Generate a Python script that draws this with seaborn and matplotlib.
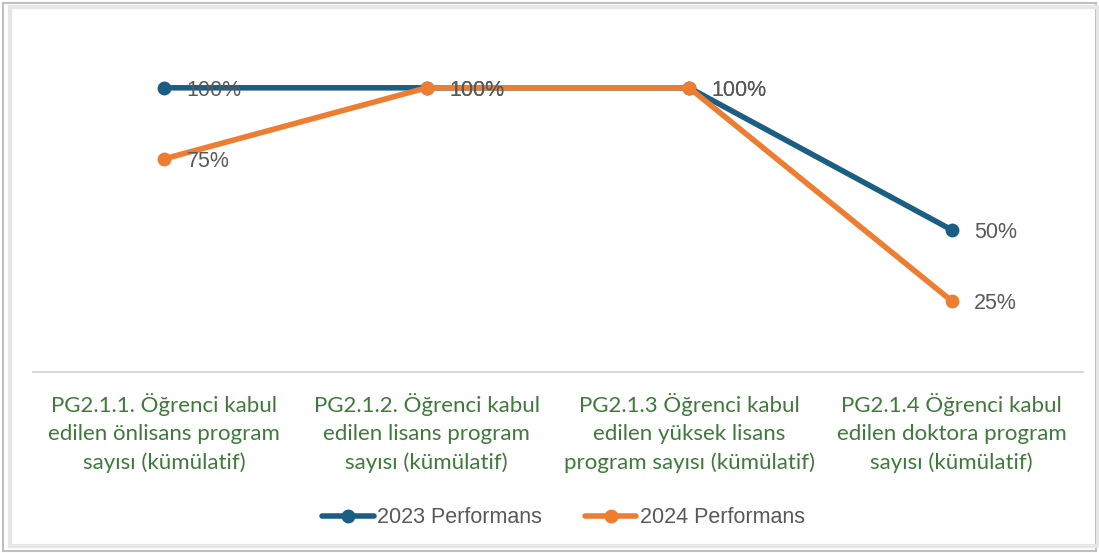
import pandas as pd
import matplotlib.pyplot as plt
from matplotlib.patches import Rectangle
import seaborn as sns

# Chart data
categories = [
    "PG2.1.1. Öğrenci kabul\nedilen önlisans program\nsayısı (kümülatif)",
    "PG2.1.2. Öğrenci kabul\nedilen lisans program\nsayısı (kümülatif)",
    "PG2.1.3 Öğrenci kabul\nedilen yüksek lisans\nprogram sayısı (kümülatif)",
    "PG2.1.4 Öğrenci kabul\nedilen doktora program\nsayısı (kümülatif)",
]
perf_2023 = [1.00, 1.00, 1.00, 0.50]
perf_2024 = [0.75, 1.00, 1.00, 0.25]
series_names = ["2023 Performans", "2024 Performans"]

d_perf = pd.DataFrame({
    'idx': list(range(len(categories))) * 2,
    'value': perf_2023 + perf_2024,
    'series': [series_names[0]] * 4 + [series_names[1]] * 4,
})

sns.set_style("white")
plt.rcParams['font.family'] = ['Liberation Sans', 'DejaVu Sans']

colors = {series_names[0]: '#1b5e84', series_names[1]: '#ed7d31'}

fig = plt.figure(figsize = (10.99, 5.53), dpi = 100)
ax = fig.add_axes([0.030, 0.3273, 0.9554, 0.6167])

sns.lineplot(x = 'idx', y = 'value', hue = 'series', data = d_perf,
             palette = colors, marker = 'o', markersize = 10,
             markeredgewidth = 0, linewidth = 4, sort = False, ax = ax)

# data labels
for vals in (perf_2023, perf_2024):
    for i, v in enumerate(vals):
        ax.annotate(f"{v:.0%}", (i, v), xytext = (16, 0),
                    textcoords = 'offset points', va = 'center_baseline',
                    ha = 'left', fontsize = 15.5, color = '#595959', zorder = 10)

ax.set_xlim(-0.5, len(categories) - 0.5)
ax.set_ylim(0, 1.2)
ax.set_yticks([])
ax.set_xticks(range(len(categories)))
ax.set_xticklabels(categories, fontsize = 16, color = '#3f7a3a',
                   family = ['Lato', 'DejaVu Sans'], linespacing = 1.52)
ax.tick_params(axis = 'x', length = 0, pad = 15)
ax.set_xlabel('')
ax.set_ylabel('')
for s in ['top', 'left', 'right']:
    ax.spines[s].set_visible(False)
ax.spines['bottom'].set_color('#d9d9d9')
ax.spines['bottom'].set_linewidth(1.5)

leg = ax.legend(loc = 'center', bbox_to_anchor = (0.505, -0.428), ncol = 2,
                frameon = False, fontsize = 15.5, handlelength = 2.4,
                columnspacing = 2.0, handletextpad = 0.15)
for t in leg.get_texts():
    t.set_color('#595959')

# outer frame
fig.patches.append(Rectangle((0.003, 0.004), 0.994, 0.99, transform = fig.transFigure,
                             fill = False, edgecolor = '#bfbfbf', linewidth = 1.5))
fig.patches.append(Rectangle((0.009, 0.012), 0.99, 0.975, transform = fig.transFigure,
                             fill = False, edgecolor = '#e6e6e6', linewidth = 3))

fig.savefig('out.png', dpi = 100)
